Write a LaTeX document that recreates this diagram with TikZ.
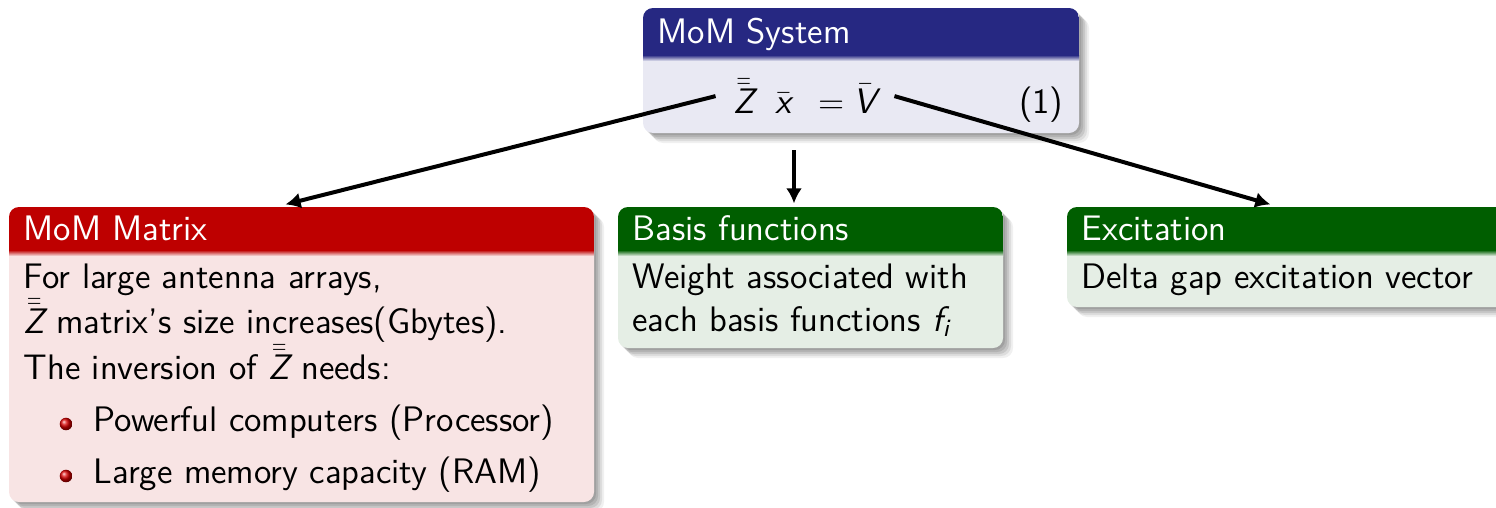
\documentclass[tikz,border=0pt]{standalone}
\usepackage{amsmath}
\usetikzlibrary{arrows.meta,shadows,fit,calc}

\definecolor{sysTitle}{RGB}{38,40,130}
\definecolor{sysBody}{RGB}{233,233,243}
\definecolor{matTitle}{RGB}{190,0,0}
\definecolor{matBody}{RGB}{248,228,228}
\definecolor{exTitle}{RGB}{0,94,0}
\definecolor{exBody}{RGB}{229,238,229}

% sans italic math letters
\newcommand\msf[1]{\text{\sffamily\itshape #1}}
\newcommand\Zmat{\bar{\bar{\msf{Z}}}}

% a block: name, x1, y1, x2, y2, title bottom, title colour, body colour
\newcommand\drawblock[8]{%
  \node[blockshape, fill=#8, fit={(#2,#3) (#4,#5)}] (#1) {};
  \begin{scope}
    \clip[rounded corners=3.5pt] (#2,#3) rectangle (#4,#5);
    \fill[#7] (#2,#3) rectangle (#4,#6);
    \shade[top color=#7, bottom color=#8] (#2,#6) rectangle (#4,#6+6);
  \end{scope}
}

\tikzset{
  every node/.style={font=\sffamily\fontsize{12.4}{15}\selectfont},
  blockshape/.style={rounded corners=3.5pt, inner sep=0pt,
    general shadow={fill=black, opacity=.10, shadow xshift=0.7pt, shadow yshift=-0.7pt},
    general shadow={fill=black, opacity=.10, shadow xshift=1.4pt, shadow yshift=-1.4pt},
    general shadow={fill=black, opacity=.10, shadow xshift=2.1pt, shadow yshift=-2.1pt},
    general shadow={fill=black, opacity=.08, shadow xshift=2.8pt, shadow yshift=-2.8pt},
    general shadow={fill=black, opacity=.06, shadow xshift=3.5pt, shadow yshift=-3.5pt}},
  titletext/.style={anchor=base west, inner sep=0pt, text=white},
  bodyline/.style={anchor=base west, inner sep=0pt, text=black},
  arrow/.style={-{Latex[length=5.3pt, width=5.6pt]}, line width=1.4pt, black},
  ballbullet/.style={ball color=red!85!black}
}

\begin{document}
\begin{tikzpicture}[x=0.35pt, y=-0.35pt]
\useasboundingbox (0,0) rectangle (1496,507);

% system block
\drawblock{sys}{643}{8}{1079}{133}{55}{sysTitle}{sysBody}
\node[titletext] (systitle) at (657,43) {MoM System};
\node[anchor=base, inner xsep=6pt] (eq) at (805,113)
  {$\Zmat\;\ \bar{\msf{x}}\ \,= \bar{\msf{V}}$\hspace{3pt}};
\node[anchor=base east, inner sep=0pt] (eqno) at (1064,113) {(1)};

% matrix block
\drawblock{mat}{9}{207}{594}{502}{250}{matTitle}{matBody}
\node[titletext] (mattitle) at (23,240) {MoM Matrix};
\node[bodyline] (m1) at (23,288) {For large antenna arrays,};
\node[bodyline] (m2) at (23,333) {$\Zmat$ matrix's size increases(Gbytes).};
\node[bodyline] (m3) at (23,379) {The inversion of $\Zmat$ needs:};
\node[bodyline] (m4) at (93,431) {Powerful computers (Processor)};
\node[bodyline] (m5) at (93,483) {Large memory capacity (RAM)};
\shade[ballbullet] (66,424) circle[radius=2.2pt];
\shade[ballbullet] (66,476) circle[radius=2.2pt];

% basis functions block
\drawblock{bas}{618}{207}{1003}{348}{250}{exTitle}{exBody}
\node[titletext] (bastitle) at (632,240) {Basis functions};
\node[bodyline] (b1) at (632,288) {Weight associated with};
\node[bodyline] (b2) at (632,331) {each basis functions $\msf{f}_{\msf{i}}$};

% excitation block
\drawblock{exc}{1067}{207}{1540}{307}{250}{exTitle}{exBody}
\node[titletext] (exctitle) at (1081,240) {Excitation};
\node[bodyline] (e1) at (1081,288) {Delta gap excitation vector};

% connectors
\coordinate (vstart) at (794,150);
\draw[arrow] (eq.west) -- ($(mat.north west)+(277,-2)$);
\draw[arrow] (vstart) -- ($(vstart |- bas.north)+(0,-3)$);
\draw[arrow] (eq.east) -- ($(exc.north west)+(204,-2)$);
\end{tikzpicture}
\end{document}
